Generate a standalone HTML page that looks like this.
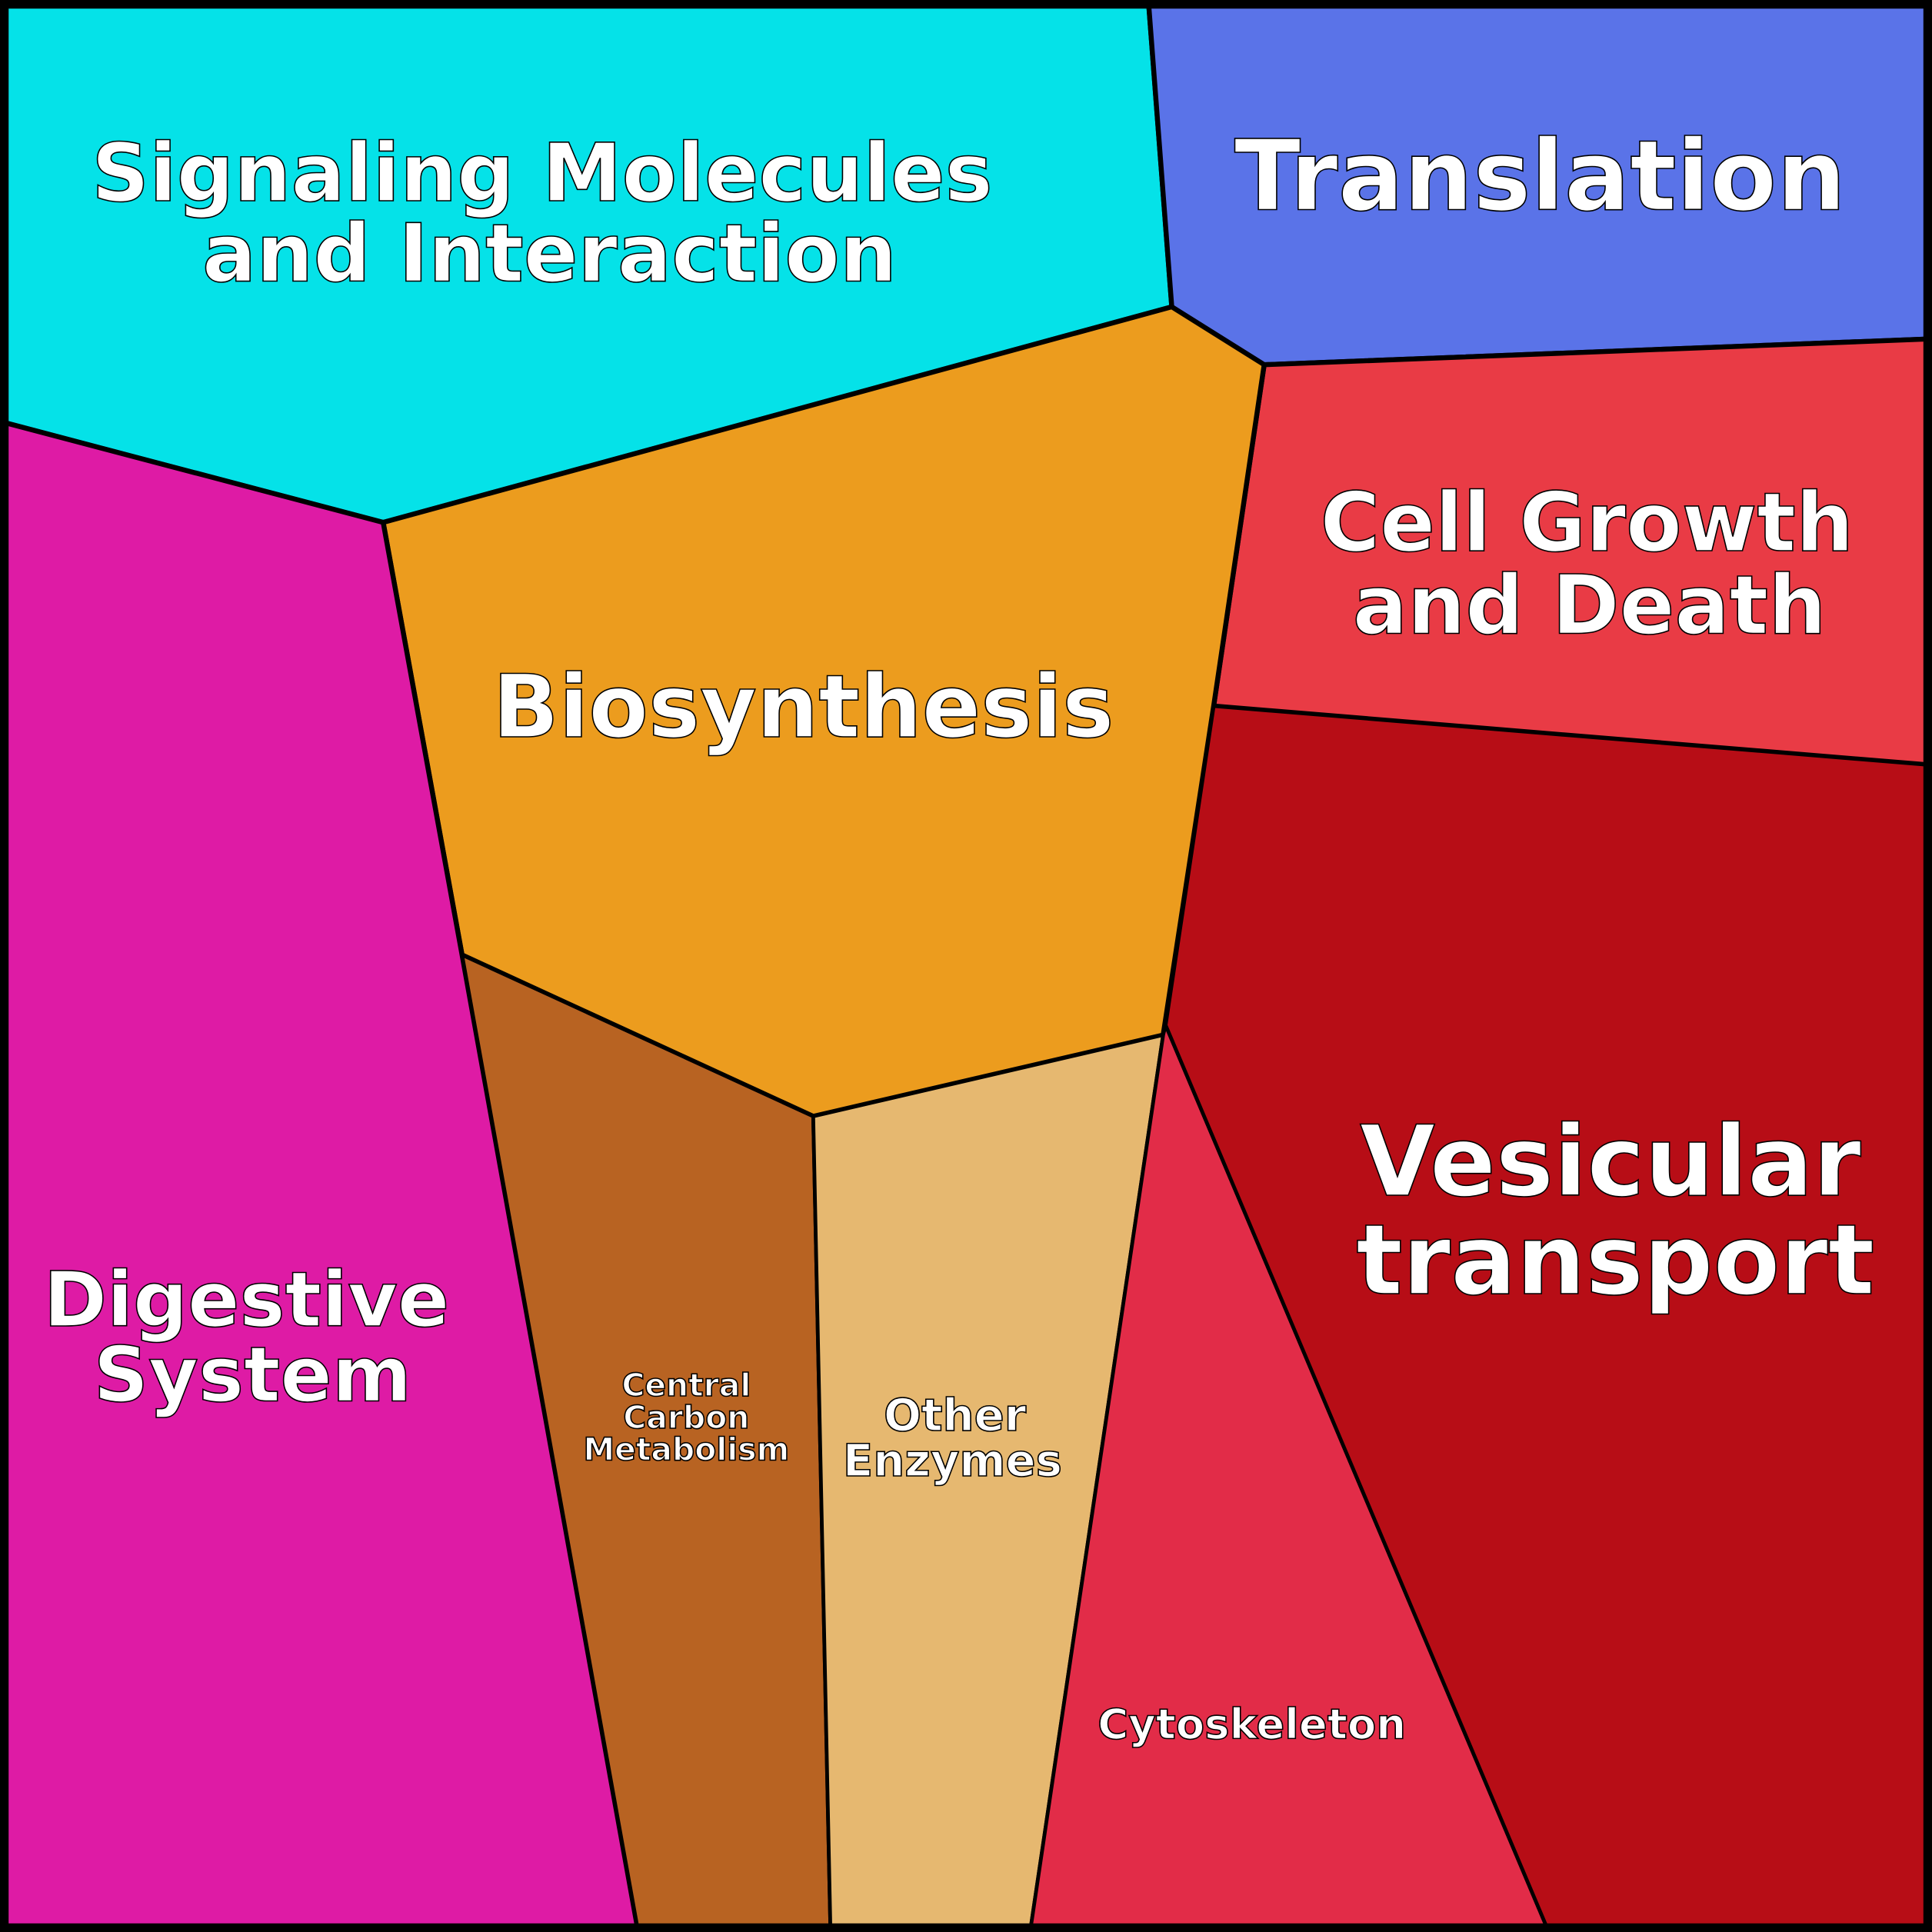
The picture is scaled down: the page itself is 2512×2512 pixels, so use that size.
<!DOCTYPE html>
<html><head><meta charset="utf-8"><style>html,body{margin:0;padding:0;background:#fff}svg{display:block}</style></head>
<body>
<svg xmlns="http://www.w3.org/2000/svg" width="2512" height="2512" viewBox="0 0 1568 1568">
<g stroke="#000" stroke-width="4" stroke-linejoin="miter">
<polygon points="0,0 932,0 951,249 311,424 0,342" fill="#05E2E8"/>
<polygon points="932,0 1568,0 1568,275 1026,296 951,249" fill="#5A73E8"/>
<polygon points="1026,296 1568,275 1568,621 985,573" fill="#E93B45"/>
<polygon points="311,424 951,249 1026,296 985,573 944,840 660,906 375,775" fill="#EC9C1E"/>
<polygon points="0,342 311,424 375,775 518,1568 0,1568" fill="#DE1BA5"/>
<polygon points="375,775 660,906 674,1568 518,1568" fill="#B86322" stroke-width="3"/>
<polygon points="660,906 944,840 836,1568 674,1568" fill="#E6B870" stroke-width="3"/>
<polygon points="944,840 946,832 1257,1568 836,1568" fill="#E22C48" stroke-width="3"/>
<polygon points="985,573 1568,621 1568,1568 1257,1568 946,832" fill="#B70D16" stroke-width="3"/>
</g>
<rect x="3.5" y="3.5" width="1561" height="1561" fill="none" stroke="#000" stroke-width="7"/>
<g font-family="'DejaVu Sans','Liberation Sans',sans-serif" font-weight="bold" fill="#fff" stroke="#000" stroke-width="1" text-anchor="middle">
<text x="440" y="163" font-size="65">Signaling Molecules</text>
<text x="446" y="228" font-size="65">and Interaction</text>
<text x="1250" y="170" font-size="79">Translation</text>
<text x="1288" y="447" font-size="66">Cell Growth</text>
<text x="1290" y="514" font-size="66">and Death</text>
<text x="652" y="598" font-size="70.5">Biosynthesis</text>
<text x="1307" y="970" font-size="79">Vesicular</text>
<text x="1311" y="1050" font-size="79">transport</text>
<text x="200" y="1076" font-size="62">Digestive</text>
<text x="205" y="1137" font-size="62">System</text>
<text x="557" y="1133" font-size="25.5">Central</text>
<text x="557" y="1159" font-size="25.5">Carbon</text>
<text x="557" y="1185" font-size="25.5">Metabolism</text>
<text x="775" y="1161" font-size="36">Other</text>
<text x="773" y="1198" font-size="36">Enzymes</text>
<text x="1016" y="1411" font-size="34">Cytoskeleton</text>
</g>
</svg>
</body></html>
